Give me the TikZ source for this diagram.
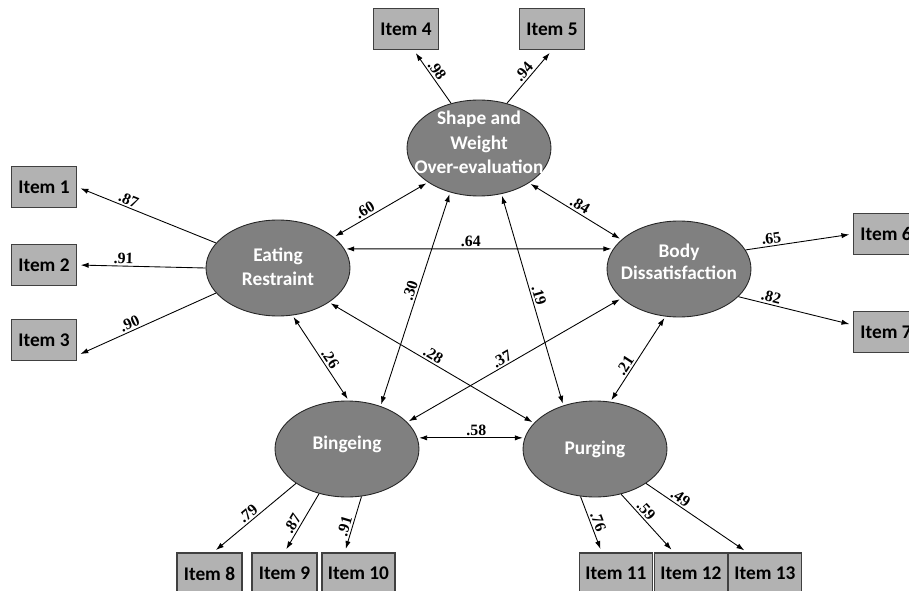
\documentclass[tikz,border=0pt]{standalone}
\usepackage{fontspec}
\setmainfont{Carlito}
\newfontfamily\numfont{Liberation Serif}
\usetikzlibrary{arrows.meta,shapes.geometric}

% lines of a factor name, kept out of the ellipse size
\newcommand{\lattxt}[2][0pt]{\makebox[0pt]{\raisebox{#1}[0pt][0pt]{\begin{tabular}{@{}c@{}}#2\end{tabular}}}}

\tikzstyle{lat} = [ellipse, minimum width=2.88cm, minimum height=1.92cm, inner sep=0pt, fill=gray, draw=black!85, text=white, font=\bfseries\fontsize{11}{13.5}\selectfont]
\tikzstyle{obs} = [rectangle, minimum width=1.3cm, minimum height=0.82cm, fill=gray!60, draw=black!75, line width=0.8pt, font=\bfseries\fontsize{11}{13}\selectfont]
\tikzstyle{w} = [sloped, above, inner sep=1pt, font=\numfont\bfseries\fontsize{9}{10}\selectfont]

\begin{document}
\begin{tikzpicture}[x=0.02cm, y=-0.02cm, >={Latex[length=4.5pt,width=3pt]}, line width=0.5pt]
\useasboundingbox (0,0) rectangle (909,591);

\node[lat] (SW) at (479,148) {\lattxt[-0.8pt]{Shape and\\[0.4pt]Weight\\[0.4pt]Over-evaluation}};
\node[lat] (ER) at (278,268) {\lattxt[-3pt]{Eating\\Restraint}};
\node[lat] (BD) at (679,269) {\lattxt[0.2pt]{Body\\[-1pt]Dissatisfaction}};
\node[lat] (BI) at (347,449) {\lattxt[-0.6pt]{Bingeing}};
\node[lat] (PU) at (595,449) {\lattxt[-3pt]{Purging}};

\node[obs] (I1) at (44,187) {Item 1};
\node[obs] (I2) at (44,265) {Item 2};
\node[obs] (I3) at (44,340) {Item 3};
\node[obs] (I4) at (406,29) {Item 4};
\node[obs] (I5) at (552,29) {Item 5};
\node[obs] (I6) at (886,234) {Item 6};
\node[obs] (I7) at (886,332) {Item 7};
\node[obs] (I8) at (209.5,573.5) {Item 8};
\node[obs] (I9) at (284.5,573.5) {Item 9};
\node[obs] (I10) at (358.5,573.5) {Item 10};
\node[obs] (I11) at (616,573.5) {Item 11};
\node[obs] (I12) at (691,573.5) {Item 12};
\node[obs] (I13) at (765,573.5) {Item 13};

% loadings
\path[->, shorten >=2pt, every node/.style={w}]
    (ER.158) edge node [pos=0.65] {.87} (I1.east)
    (ER.180) edge node [pos=0.64] {.91} (I2.east)
    (ER.202) edge node [pos=0.6] {.90} (I3.-25)
    (SW.122) edge node [pos=0.54] {.98} (I4.-70)
    (SW.58) edge node [pos=0.5] {.94} (I5.south)
    (BD.16) edge node [pos=0.25] {.65} (I6.west)
    (BD.335) edge node [pos=0.27] {.82} (I7.168)
    (BI.214) edge node [pos=0.52] {.79} (I8.80)
    (BI.238) edge node [pos=0.58] {.87} (I9.north)
    (BI.287) edge node [pos=0.57] {.91} (I10.123)
    (PU.253) edge node [pos=0.5] {.76} (I11.124)
    (PU.300) edge node [pos=0.37] {.59} (I12.129)
    (PU.326) edge node [pos=0.3] {.49} (I13.130)
    ;

% correlations
\path[<->, shorten >=1pt, shorten <=1pt, every node/.style={w}]
    (ER.29) edge node [pos=0.37] {.60} (SW.214)
    (ER.16) edge node [pos=0.47] {.64} (BD.163)
    (ER.287) edge node [pos=0.56] {.26} (BI.88)
    (ER.326) edge node [pos=0.49] {.28} (PU.157)
    (SW.325) edge node [pos=0.51] {.84} (BD.153)
    (SW.237) edge node [pos=0.47] {.30} (BI.52)
    (SW.296) edge node [pos=0.49] {.19} (PU.126)
    (BD.207) edge node [pos=0.54] {.37} (BI.24)
    (BD.254) edge node [pos=0.62] {.21} (PU.72)
    (BI.9) edge node [pos=0.55] {.58} (PU.171)
    ;

\end{tikzpicture}
\end{document}
